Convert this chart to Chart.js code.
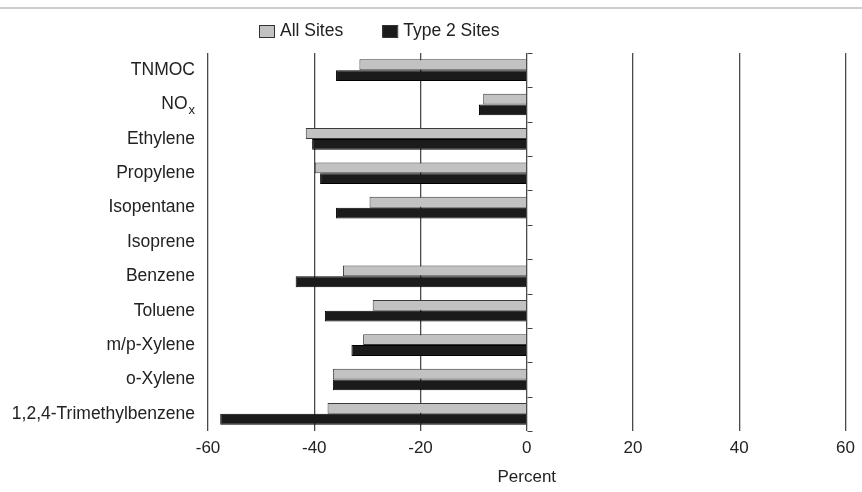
<!DOCTYPE html>
<html>
<head>
<meta charset="utf-8">
<script src="https://cdn.jsdelivr.net/npm/chart.js@4/dist/chart.umd.min.js"></script>
<style>
  html, body { margin: 0; padding: 0; background: #fff; }
  #wrap { width: 862px; height: 492px; }
</style>
</head>
<body>
<div id="wrap"><canvas id="changeChart" width="862" height="492"></canvas></div>
<script>
// compounds, top to bottom ("_" marks a subscript)
var categories = ['TNMOC', 'NO_x', 'Ethylene', 'Propylene', 'Isopentane', 'Isoprene',
  'Benzene', 'Toluene', 'm/p-Xylene', 'o-Xylene', '1,2,4-Trimethylbenzene'];

// percent change per compound
var allSites   = [-31.5, -8.2, -41.6, -39.9, -29.6, null, -34.6, -29.0, -30.8, -36.5, -37.5];
var type2Sites = [-35.9, -9.0, -40.4, -38.9, -35.9, null, -43.5, -38.0, -33.0, -36.5, -57.7];

var seriesNames = ['All Sites', 'Type 2 Sites'];
var xTicks = [-60, -40, -20, 0, 20, 40, 60];

var FONT = '"Liberation Sans", Arial, Helvetica, sans-serif';
var INK = '#222';

// labels, legend, rule and zero-line ticks drawn by hand
var decorations = {
  id: 'decorations',
  afterDraw: function(chart) {
    var ctx = chart.ctx;
    var y = chart.scales.y;
    var x = chart.scales.x;
    var area = chart.chartArea;
    ctx.save();

    // thin rule across the top
    ctx.strokeStyle = '#bdbdbd';
    ctx.lineWidth = 1.5;
    ctx.beginPath();
    ctx.moveTo(0, 8);
    ctx.lineTo(chart.width, 8);
    ctx.stroke();

    // legend
    ctx.font = '17.5px ' + FONT;
    ctx.textBaseline = 'middle';
    ctx.textAlign = 'left';
    var lx = 259;
    chart.data.datasets.forEach(function(ds, i) {
      ctx.fillStyle = ds.backgroundColor;
      ctx.fillRect(lx, 25, 15, 12);
      ctx.strokeStyle = '#333';
      ctx.lineWidth = 1;
      ctx.strokeRect(lx + 0.5, 25.5, 15, 12);
      ctx.fillStyle = INK;
      ctx.fillText(ds.label, lx + 21, 31);
      lx += 21 + ctx.measureText(ds.label).width + 39;
    });

    // category labels, right aligned
    var labelRight = area.left - 13;
    chart.data.labels.forEach(function(lab, i) {
      var cy = y.getPixelForValue(i);
      var parts = lab.split('_');
      ctx.fillStyle = INK;
      ctx.textBaseline = 'middle';
      if (parts.length > 1) {
        ctx.font = '13px ' + FONT;
        var subW = ctx.measureText(parts[1]).width;
        ctx.textAlign = 'right';
        ctx.fillText(parts[1], labelRight, cy + 6);
        ctx.font = '17.5px ' + FONT;
        ctx.fillText(parts[0], labelRight - subW - 1, cy);
      } else {
        ctx.font = '17.5px ' + FONT;
        ctx.textAlign = 'right';
        ctx.fillText(lab, labelRight, cy);
      }
    });

    // small ticks on the zero line between categories
    var x0 = Math.round(x.getPixelForValue(0)) + 0.5;
    var step = y.getPixelForValue(1) - y.getPixelForValue(0);
    ctx.strokeStyle = '#444';
    ctx.lineWidth = 1.2;
    ctx.beginPath();
    for (var i = 0; i <= chart.data.labels.length; i++) {
      var ty = Math.round(y.getPixelForValue(i) - step / 2) + 0.5;
      ctx.moveTo(x0, ty);
      ctx.lineTo(x0 + 5, ty);
    }
    ctx.stroke();
    ctx.restore();
  }
};

var ctx = document.getElementById('changeChart').getContext('2d');
var changeChart = new Chart(ctx, {
  type: 'bar',
  data: {
    labels: categories,
    datasets: [{
      label: seriesNames[0],
      data: allSites,
      backgroundColor: '#c2c2c2',
      borderColor: '#3a3a3a',
      borderWidth: 1
    }, {
      label: seriesNames[1],
      data: type2Sites,
      backgroundColor: '#1b1b1b',
      borderColor: '#000',
      borderWidth: 1
    }]
  },
  options: {
    indexAxis: 'y',
    responsive: false,
    animation: false,
    categoryPercentage: 0.63,
    barPercentage: 1.0,
    layout: { padding: { left: 200, right: 8, top: 53, bottom: 0 } },
    plugins: {
      legend: { display: false },
      tooltip: { enabled: false }
    },
    scales: {
      x: {
        min: xTicks[0],
        max: xTicks[xTicks.length - 1],
        afterBuildTicks: function(scale) {
          scale.ticks = xTicks.map(function(v) { return { value: v }; });
        },
        afterFit: function(scale) { scale.height = 61; },
        grid: { color: '#4a4a4a', lineWidth: 1.3, drawTicks: false },
        border: { display: false },
        ticks: { padding: 7, color: INK, font: { family: FONT, size: 17 } },
        title: {
          display: true,
          text: 'Percent',
          color: INK,
          padding: { top: 4, bottom: 4 },
          font: { family: FONT, size: 17 }
        }
      },
      y: {
        grid: { display: false },
        border: { display: false },
        ticks: { display: false }
      }
    }
  },
  plugins: [decorations]
});
</script>
</body>
</html>
